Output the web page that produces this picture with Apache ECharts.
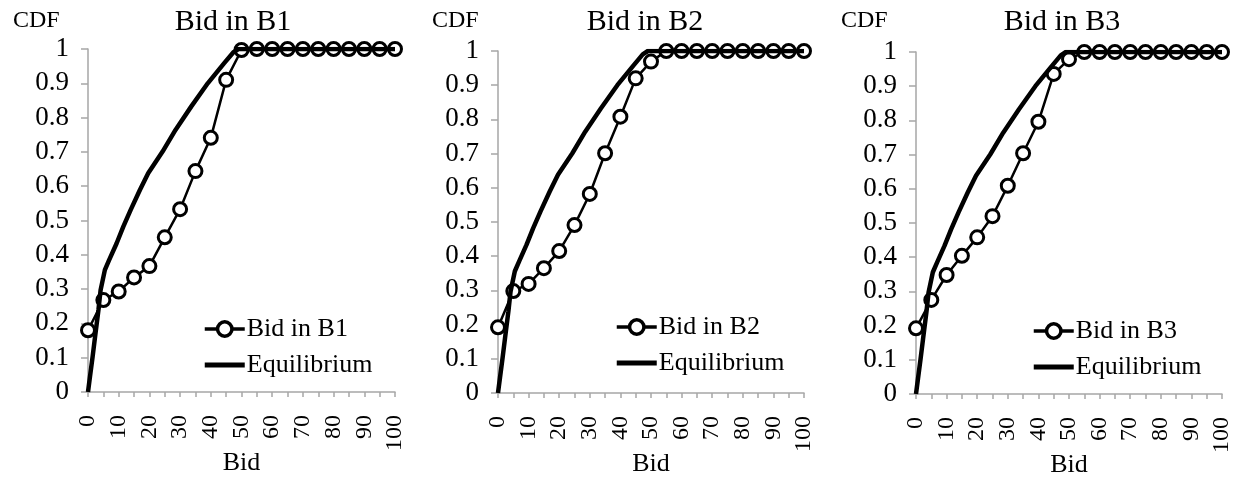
<!DOCTYPE html>
<html>
<head>
<meta charset="utf-8">
<script src="https://cdn.jsdelivr.net/npm/echarts@6/dist/echarts.min.js"></script>
<style>
html,body{margin:0;padding:0;background:#fff;}
#chart{width:1241px;height:479px;}
</style>
</head>
<body>
<div id="chart"></div>
<script>
// ---- data ----
const categories = ['0','5','10','15','20','25','30','35','40','45','50','55','60','65','70','75','80','85','90','95','100'];
const bidB1 = [0.18,0.268,0.293,0.334,0.367,0.451,0.533,0.644,0.741,0.91,0.997,1,1,1,1,1,1,1,1,1,1];
const bidB2 = [0.192,0.298,0.319,0.365,0.415,0.491,0.582,0.701,0.808,0.92,0.969,1,1,1,1,1,1,1,1,1,1];
const bidB3 = [0.192,0.275,0.348,0.404,0.458,0.52,0.609,0.704,0.796,0.936,0.979,1,1,1,1,1,1,1,1,1,1];
const eqBid = [0,0.65,1.5,2.3,3.4,4.1,5.5,6.9,9.3,11.5,13.9,16.9,19.6,24.3,28.5,33.6,39.0,44.3,47.3,49,100];
const eqCdf = [0,0.045,0.103,0.161,0.239,0.297,0.356,0.385,0.433,0.482,0.531,0.589,0.638,0.701,0.764,0.832,0.9,0.958,0.99,1,1];
const yTicks = [0,0.1,0.2,0.3,0.4,0.5,0.6,0.7,0.8,0.9,1];
const panelNames = ['Bid in B1','Bid in B2','Bid in B3'];
const panelData = [bidB1, bidB2, bidB3];
const eqName = 'Equilibrium';
const xName = 'Bid';
const yName = 'CDF';

// ---- layout ----
const FONT = '"Liberation Serif", "Times New Roman", serif';
const grids = [
  {left:88, top:49, width:307, height:343},
  {left:498, top:51, width:306, height:342},
  {left:916, top:52, width:306, height:342}
];
const legendPos = [{left:203, top:316}, {left:615, top:314}, {left:1032, top:318}];
const titleX = [228, 640, 1057];
const cdfX = [8, 427, 836];
const AX = '#a6a6a6';

const option = {
  animation:false,
  backgroundColor:'#fff',
  title:[], grid:[], xAxis:[], yAxis:[], legend:[], series:[]
};

for (let i=0;i<3;i++){
  option.grid.push(Object.assign({containLabel:false, outerBoundsMode:'none'}, grids[i]));
  option.title.push({text:panelNames[i], left:titleX[i], top:2, textAlign:'center',
    textStyle:{fontFamily:FONT, fontSize:30, fontWeight:'normal', color:'#000'}});
  option.title.push({text:yName, left:cdfX[i], top:4,
    textStyle:{fontFamily:FONT, fontSize:24, fontWeight:'normal', color:'#000'}});
  option.xAxis.push({
    type:'category', gridIndex:i, data:categories, boundaryGap:false,
    name:xName, nameLocation:'middle', nameGap:58, nameMoveOverlap:false,
    nameTextStyle:{fontFamily:FONT, fontSize:26, color:'#000', verticalAlign:'top'},
    axisLine:{lineStyle:{color:AX, width:1.5}},
    axisTick:{show:true, interval:0, length:5, lineStyle:{color:AX, width:1.5}},
    axisLabel:{interval:1, rotate:90, margin:23, fontFamily:FONT, fontSize:24, color:'#000'},
    splitLine:{show:false}
  });
  option.xAxis.push({type:'value', gridIndex:i, min:0, max:100, show:false});
  option.yAxis.push({
    type:'value', gridIndex:i, min:0, max:1, interval:0.1,
    axisLine:{show:true, lineStyle:{color:AX, width:1.5}},
    axisTick:{show:true, length:7, lineStyle:{color:AX, width:1.5}},
    axisLabel:{margin:19, fontFamily:FONT, fontSize:27, color:'#000',
      formatter:(v)=>{ const t = yTicks.find(a=>Math.abs(a-v)<1e-9); return t===undefined?'':String(t); }},
    splitLine:{show:false}
  });
  option.legend.push({
    left:legendPos[i].left, top:legendPos[i].top, orient:'vertical', padding:0,
    itemGap:10, itemWidth:40, itemHeight:18,
    textStyle:{fontFamily:FONT, fontSize:26, color:'#000', padding:[0,0,0,-3]},
    data:[
      {name:panelNames[i], itemStyle:{color:'#fff', borderColor:'#000', borderWidth:3.5},
        lineStyle:{color:'#000', width:3.5}},
      {name:eqName, icon:'path://M0,0L40,0L40,5L0,5Z', itemStyle:{color:'#000', borderWidth:0},
        lineStyle:{color:'#000', width:5}}
    ]
  });
  option.series.push({
    type:'line', name:panelNames[i], xAxisIndex:2*i, yAxisIndex:i,
    data:panelData[i], symbol:'circle', symbolSize:13, showSymbol:true, showAllSymbol:true,
    itemStyle:{color:'#fff', borderColor:'#000', borderWidth:3},
    lineStyle:{color:'#000', width:2.5}, z:2
  });
  option.series.push({
    type:'line', name:eqName, xAxisIndex:2*i+1, yAxisIndex:i,
    data:eqBid.map((x,k)=>[x,eqCdf[k]]), symbol:'none', showSymbol:false,
    itemStyle:{color:'#000'}, lineStyle:{color:'#000', width:4.5}, z:3
  });
}

const chart = echarts.init(document.getElementById('chart'), null, {renderer:'canvas'});
chart.setOption(option);
</script>
</body>
</html>
